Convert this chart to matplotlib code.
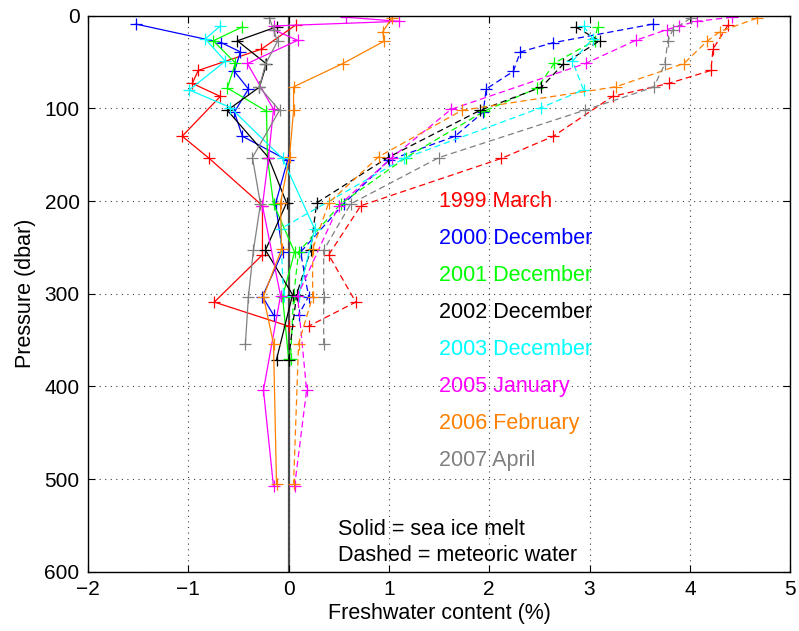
#!/usr/bin/env python3

import matplotlib
matplotlib.use("Agg")
import matplotlib.pyplot as plt

plt.rcParams["font.family"] = ["Liberation Sans", "DejaVu Sans"]

# Freshwater fractions per cruise: pressure (dbar), sea ice melt (%), meteoric water (%)
p_1999 = [10, 36, 59, 73, 87, 130, 154, 205, 258, 309, 335]
sim_1999 = [0.07, -0.27, -0.90, -0.96, -0.68, -1.06, -0.79, -0.26, -0.26, -0.74, 0.0]
met_1999 = [4.38, 4.23, 4.21, 3.79, 3.23, 2.64, 2.12, 0.72, 0.40, 0.67, 0.20]

p_2000 = [9, 29, 39, 60, 79, 104, 130, 156, 203, 255, 303, 323]
sim_2000 = [-1.52, -0.67, -0.48, -0.54, -0.40, -0.54, -0.46, -0.01, -0.13, -0.06, -0.26, -0.15]
met_2000 = [3.63, 2.64, 2.31, 2.24, 1.97, 1.94, 1.66, 1.00, 0.55, 0.12, 0.20, 0.10]

p_2001 = [12, 27, 51, 78, 103, 153, 203, 255, 303, 370]
sim_2001 = [-0.46, -0.75, -0.53, -0.61, -0.22, -0.21, -0.15, 0.06, -0.06, 0.0]
met_2001 = [3.08, 3.05, 2.65, 2.48, 1.95, 1.17, 0.52, 0.10, 0.05, 0.02]

p_2002 = [12, 27, 52, 77, 102, 153, 202, 253, 301, 371]
sim_2002 = [-0.12, -0.51, -0.22, -0.29, -0.61, -0.20, -0.02, -0.23, 0.04, -0.12]
met_2002 = [2.86, 3.10, 2.74, 2.52, 1.91, 0.99, 0.28, 0.22, 0.08, 0.0]

p_2003 = [11, 25, 49, 80, 99, 154, 230, 302]
sim_2003 = [-0.68, -0.83, -0.63, -0.99, -0.58, -0.06, 0.26, 0.10]
met_2003 = [2.94, 3.03, 2.83, 2.94, 2.52, 1.15, -0.08, -0.05]

p_2005 = [1.5, 6, 11, 15, 26.5, 51.5, 101, 153, 205, 302, 404, 508]
sim_2005 = [0.57, 1.10, -0.15, -0.15, 0.09, -0.41, -0.15, -0.20, -0.26, -0.08, -0.25, -0.15]
met_2005 = [4.42, 4.07, 3.89, 3.77, 3.46, 2.96, 1.62, 1.03, 0.50, 0.09, 0.18, 0.06]

p_2006 = [2.5, 17, 27.6, 51.6, 76.7, 102, 152, 202, 252, 303, 354, 505]
sim_2006 = [1.03, 0.94, 0.95, 0.54, 0.05, 0.05, 0.01, -0.08, -0.07, -0.25, -0.15, -0.12]
met_2006 = [4.67, 4.30, 4.17, 3.94, 3.26, 1.73, 0.90, 0.40, 0.24, 0.24, 0.10, 0.05]

p_2007 = [2.5, 15, 27.6, 52, 77, 102, 153, 203, 253, 303, 354]
sim_2007 = [-0.19, -0.15, -0.11, -0.23, -0.29, -0.09, -0.36, -0.28, -0.35, -0.40, -0.43]
met_2007 = [4.01, 3.83, 3.78, 3.75, 3.64, 2.95, 1.50, 0.62, 0.35, 0.35, 0.35]

etiquetas = ["1999 March", "2000 December", "2001 December", "2002 December",
             "2003 December", "2005 January", "2006 February", "2007 April"]
colores = ["#ff0000", "#0000ff", "#00ff00", "#000000",
           "#00ffff", "#ff00ff", "#ff8000", "#808080"]

perfiles = [
    (p_1999, sim_1999, met_1999),
    (p_2000, sim_2000, met_2000),
    (p_2001, sim_2001, met_2001),
    (p_2002, sim_2002, met_2002),
    (p_2003, sim_2003, met_2003),
    (p_2005, sim_2005, met_2005),
    (p_2006, sim_2006, met_2006),
    (p_2007, sim_2007, met_2007),
]


def main():
    fig = plt.figure(figsize=(7.99, 6.31), dpi=100)
    ax = fig.add_axes([0.110, 0.094, 0.879, 0.881])

    for (pres, sim, met), color in zip(perfiles, colores):
        ax.plot(sim, pres, "-", color=color, marker="+", markersize=8,
                markeredgewidth=0.9, linewidth=0.9)
        ax.plot(met, pres, color=color, marker="+", markersize=8,
                markeredgewidth=0.9, linewidth=0.9, dashes=(5, 3))

    ax.axvline(0, color="0.3", linewidth=1.6, zorder=0.5)

    ax.set_xlim(-2, 5)
    ax.set_ylim(600, 0)
    ax.set_xticks(range(-2, 6))
    ax.set_yticks(range(0, 700, 100))
    ax.grid(True, linestyle=(0, (1, 4)), color="0.25", linewidth=0.8)
    ax.tick_params(direction="in", top=True, right=True, length=5,
                   labelsize=15, pad=6)
    for spine in ax.spines.values():
        spine.set_linewidth(1.0)

    ax.set_xlabel("Freshwater content (%)", fontsize=15.5, labelpad=3)
    ax.set_ylabel("Pressure (dbar)", fontsize=15.5, labelpad=6)

    for i, (texto, color) in enumerate(zip(etiquetas, colores)):
        ax.text(1.5, 200 + 40 * i, texto, color=color, fontsize=15.5,
                va="center", ha="left")

    ax.text(0.49, 560, "Solid = sea ice melt", fontsize=15.5, va="baseline")
    ax.text(0.49, 589, "Dashed = meteoric water", fontsize=15.5, va="baseline")

    fig.savefig("out.png", dpi=100)
    plt.close(fig)


if __name__ == "__main__":
    main()
